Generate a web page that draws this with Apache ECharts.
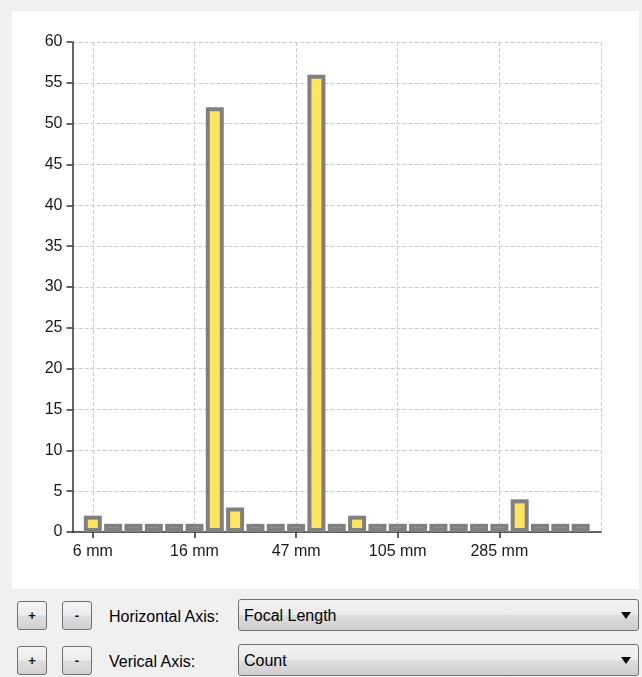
<!DOCTYPE html>
<html>
<head>
<meta charset="utf-8">
<script src="https://cdn.jsdelivr.net/npm/echarts@6/dist/echarts.min.js"></script>
<style>
  html, body { margin: 0; padding: 0; background: #f0f0f0; width: 642px; height: 677px; overflow: hidden; font-family: "Liberation Sans", Arial, sans-serif; }
  #panel { position: absolute; left: 12px; top: 11px; width: 627px; height: 578px; background: #ffffff; }
  #chart { width: 627px; height: 578px; }
  .btn { position: absolute; width: 30px; height: 29px; box-sizing: border-box; border: 1px solid #707070; border-radius: 3px;
         background: linear-gradient(#f4f4f4 0%, #ececec 48%, #dedede 52%, #d0d0d0 100%); font-size: 13px; font-weight: bold;
         color: #111; text-align: center; line-height: 27px; }
  .lbl { position: absolute; font-size: 16px; color: #000; line-height: 20px; }
  .combo { position: absolute; left: 238px; width: 401px; height: 32px; box-sizing: border-box; border: 1px solid #707070; border-radius: 3px;
           background: linear-gradient(#f2f2f2 0%, #ebebeb 48%, #dddddd 52%, #cfcfcf 100%); }
  .combo span { position: absolute; left: 5px; top: 6px; font-size: 16px; color: #000; line-height: 20px; }
  .combo i { position: absolute; right: 7px; top: 12px; width: 0; height: 0; border-left: 5px solid transparent; border-right: 5px solid transparent; border-top: 7px solid #000; }
</style>
</head>
<body>
<div id="panel"><div id="chart"></div></div>

<div class="btn" style="left:17px; top:601px;">+</div>
<div class="btn" style="left:62px; top:601px;">-</div>
<div class="lbl" style="left:109px; top:607px;">Horizontal Axis:</div>
<div class="combo" style="top:599px;"><span>Focal Length</span><i></i></div>

<div class="btn" style="left:17px; top:646px;">+</div>
<div class="btn" style="left:62px; top:646px;">-</div>
<div class="lbl" style="left:109px; top:652px;">Verical Axis:</div>
<div class="combo" style="top:644px;"><span>Count</span><i></i></div>

<script>
// ---- data ----
const binLabels = ['6 mm', '', '', '', '', '16 mm', '', '', '', '', '47 mm', '', '', '', '', '105 mm', '', '', '', '', '285 mm', '', '', '', ''];
const counts    = [2, 1, 1, 1, 1, 1, 52, 3, 1, 1, 1, 56, 1, 2, 1, 1, 1, 1, 1, 1, 1, 4, 1, 1, 1];
const yTicks    = [0, 5, 10, 15, 20, 25, 30, 35, 40, 45, 50, 55, 60];

// axis categories: one empty slot before and after the bins
const axisLabels = [''].concat(binLabels, ['']);
const axisData = axisLabels.map((_, i) => 'c' + i);
const isMajor = (i) => (i - 1) % 5 === 0 && i >= 1;
const barData = counts.map((v, i) => [i + 1, v]);

const chart = echarts.init(document.getElementById('chart'), null, { renderer: 'canvas' });
const font = '"Liberation Sans", Arial, sans-serif';

chart.setOption({
  animation: false,
  backgroundColor: '#ffffff',
  grid: { left: 60.5, top: 31, right: 38, bottom: 57, containLabel: false },
  xAxis: {
    type: 'category',
    data: axisData,
    boundaryGap: false,
    axisLine: { show: true, lineStyle: { color: '#333333', width: 1.5 } },
    axisTick: { show: true, length: 6, interval: (i) => isMajor(i) && i < axisLabels.length - 1, lineStyle: { color: '#333333', width: 1.5 } },
    axisLabel: { show: true, interval: (i) => isMajor(i) && axisLabels[i] !== '', formatter: (v, i) => axisLabels[i], margin: 12, fontSize: 16, color: '#1a1a1a', fontFamily: font },
    splitLine: { show: true, interval: (i) => isMajor(i), lineStyle: { color: '#cccccc', type: [4, 2], width: 1 } }
  },
  yAxis: {
    type: 'value',
    min: yTicks[0],
    max: yTicks[yTicks.length - 1],
    interval: yTicks[1] - yTicks[0],
    axisLine: { show: true, lineStyle: { color: '#333333', width: 1.5 } },
    axisTick: { show: true, length: 6, lineStyle: { color: '#333333', width: 1.5 } },
    axisLabel: { margin: 10, fontSize: 16, color: '#1a1a1a', fontFamily: font },
    splitLine: { show: true, lineStyle: { color: '#cccccc', type: [4, 2], width: 1 } }
  },
  series: [{
    type: 'custom',
    data: barData,
    encode: { x: 0, y: 1 },
    renderItem: function (params, api) {
      const top = api.coord([api.value(0), api.value(1)]);
      const base = api.coord([api.value(0), 0]);
      const band = api.size([1, 0])[0];
      const w = band * 0.885;
      const h = base[1] - top[1];
      const inset = 4;
      const children = [{
        type: 'rect',
        shape: { x: top[0] - w / 2, y: top[1], width: w, height: h },
        style: { fill: '#808080' }
      }];
      if (h > inset * 2) {
        children.push({
          type: 'rect',
          shape: { x: top[0] - w / 2 + inset, y: top[1] + inset, width: w - inset * 2, height: h - inset * 2 },
          style: { fill: '#ffe45c' }
        });
      }
      return { type: 'group', children: children };
    }
  }]
});
</script>
</body>
</html>
